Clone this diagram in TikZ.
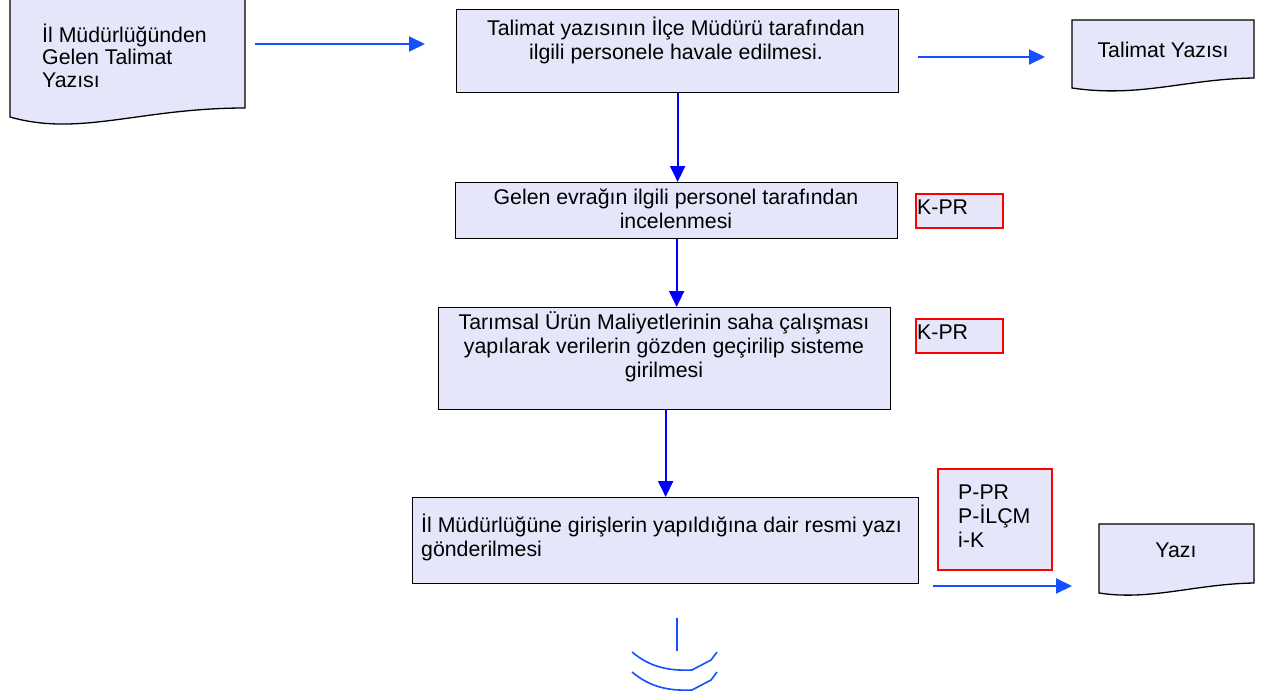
\documentclass[tikz,border=0pt]{standalone}
\usepackage{fontspec}
\setmainfont{Liberation Sans}
\usetikzlibrary{arrows.meta}
\definecolor{boxfill}{RGB}{230,230,250}
\definecolor{vblue}{RGB}{0,0,255}
\definecolor{hblue}{RGB}{20,80,255}
\begin{document}
\begin{tikzpicture}[x=1pt,y=-1pt,
  box/.style={draw=black,line width=1.3pt,fill=boxfill,inner sep=0pt,anchor=north west},
  redbox/.style={draw=red,line width=1.5pt,fill=boxfill,inner sep=0pt,anchor=north west},
  doc/.style={draw=black,line width=1.3pt,fill=boxfill},
  txt/.style={inner sep=0pt,font=\fontsize{21.3}{24}\selectfont},
  doctxt/.style={inner sep=0pt,font=\fontsize{21.3}{22.5}\selectfont},
  varrow/.style={draw=vblue,line width=2pt,-{Triangle[length=16pt,width=15pt]}},
  harrow/.style={draw=hblue,line width=2pt,-{Triangle[length=16pt,width=15pt]}},
  sym/.style={draw=hblue,line width=1.6pt}]
\useasboundingbox (0,0) rectangle (1269,699);

% document shapes
\draw[doc] (10,-3) -- (245,-3) -- (245,108) .. controls (140,108) and (80,137) .. (10,117) -- cycle;
\node[doctxt,align=left,anchor=west] (d1) at (42,55.5) {İl Müdürlüğünden\\Gelen Talimat\\Yazısı};

\draw[doc] (1072,20) -- (1254,20) -- (1254,78) .. controls (1185,79) and (1140,98) .. (1072,88) -- cycle;
\node[txt] (d2) at (1163,50) {Talimat Yazısı};

\draw[doc] (1099,524) -- (1254,524) -- (1254,583) .. controls (1195,584) and (1150,601) .. (1099,593) -- cycle;
\node[txt] (d3) at (1176,550) {Yazı};

% process boxes
\node[box,minimum width=442pt,minimum height=83pt] (b1) at (456,9) {};
\node[txt,align=center] (t1) at (676,40) {Talimat yazısının İlçe Müdürü tarafından\\ilgili personele havale edilmesi.};

\node[box,minimum width=442pt,minimum height=56pt] (b2) at (455,182) {};
\node[txt,align=center] (t2) at (676,209) {Gelen evrağın ilgili personel tarafından\\incelenmesi};

\node[box,minimum width=452pt,minimum height=102pt] (b3) at (438,307) {};
\node[txt,align=center] (t3) at (664,347) {Tarımsal Ürün Maliyetlerinin saha çalışması\\yapılarak verilerin gözden geçirilip sisteme\\girilmesi};

\node[box,minimum width=506pt,minimum height=86pt] (b4) at (412,497) {};
\node[txt,align=left,anchor=west] (t4) at (421,537) {İl Müdürlüğüne girişlerin yapıldığına dair resmi yazı\\gönderilmesi};

% responsibility boxes
\node[redbox,minimum width=87pt,minimum height=34pt] (r1) at (915,193) {};
\node[txt,anchor=west] (k1) at (917,207) {K-PR};
\node[redbox,minimum width=87pt,minimum height=34pt] (r2) at (915,318) {};
\node[txt,anchor=west] (k2) at (917,332) {K-PR};
\node[redbox,minimum width=114pt,minimum height=101pt] (r3) at (937,468) {};
\node[txt,align=left,anchor=west] (k3) at (958,516) {P-PR\\P-İLÇM\\i-K};

% connectors
\coordinate (a1s) at (255,44);
\coordinate (a1e) at (425,44);
\draw[harrow] (a1s) -- (a1e);
\coordinate (a2s) at (918,57);
\coordinate (a2e) at (1045,57);
\draw[harrow] (a2s) -- (a2e);
\coordinate (a3s) at (933,586);
\coordinate (a3e) at (1072,586);
\draw[harrow] (a3s) -- (a3e);

\draw[varrow] (b1.south) -- (b1.south |- b2.north);
\draw[varrow] (b2.south) -- (b2.south |- b3.north);
\draw[varrow] (b4.north |- b3.south) -- (b4.north);

% connector symbol at the bottom
\draw[sym] (677,618) -- (677,651);
\draw[sym] (632,652) .. controls (650,667) and (668,671) .. (692,670) -- (711,660) -- (717,652);
\draw[sym] (632,672) .. controls (650,687) and (668,691) .. (692,690) -- (711,680) -- (717,672);
\end{tikzpicture}
\end{document}
